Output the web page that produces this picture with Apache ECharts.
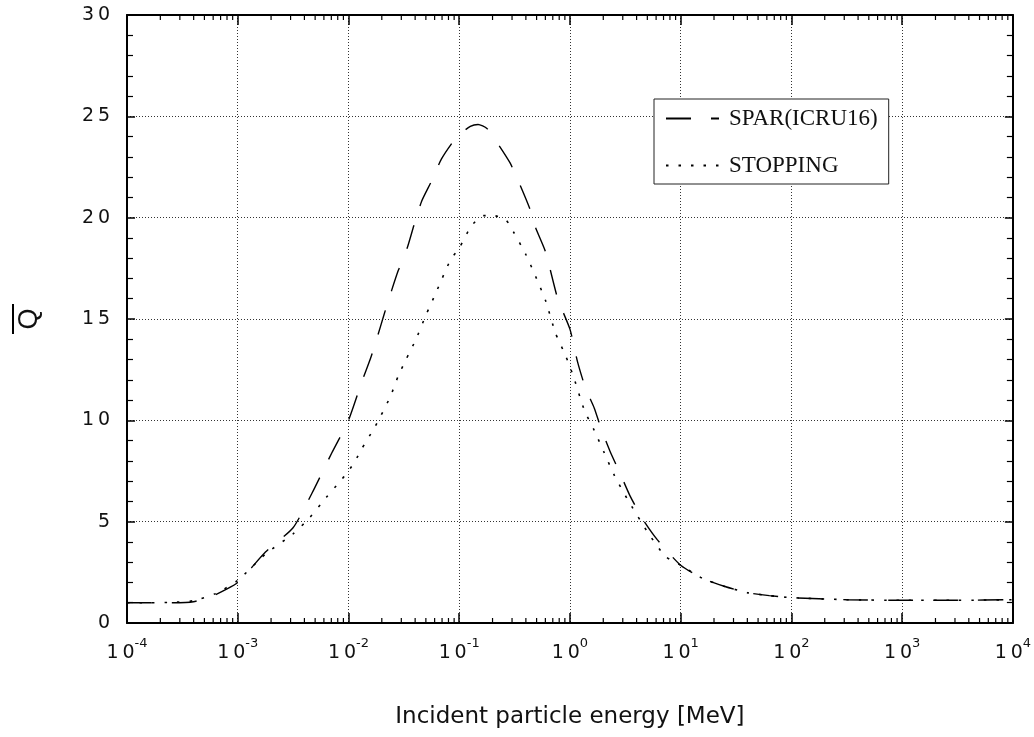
<!DOCTYPE html>
<html><head><meta charset="utf-8">
<script src="https://cdn.jsdelivr.net/npm/echarts@6/dist/echarts.min.js"></script>
<style>html,body{margin:0;padding:0;background:#fff}#c{width:1034px;height:737px}</style>
</head><body><div id="c"></div>
<script>
// ---- data ----
const seriesNames = ['SPAR(ICRU16)', 'STOPPING'];

const sparEnergy = [1e-4, 1.58e-4, 2.51e-4, 3.98e-4, 6.31e-4, 1e-3, 1.78e-3, 3.16e-3, 4.68e-3, 7.08e-3,
  1e-2, 1.32e-2, 1.58e-2, 1.82e-2, 2.09e-2, 2.45e-2, 2.82e-2, 3.39e-2, 3.89e-2, 4.57e-2,
  5.62e-2, 6.92e-2, 9.55e-2, 0.126, 0.148, 0.178, 0.214, 0.288, 0.355, 0.437,
  0.490, 0.603, 0.776, 1.0, 1.17, 1.38, 1.66, 1.91, 2.29, 2.88,
  3.47, 4.57, 6.17, 10, 15.8, 25.1, 39.8, 63.1, 100, 316, 1000, 3160, 10000];
const sparQ = [1.0, 1.0, 1.0, 1.05, 1.4, 2.0, 3.5, 4.7, 6.4, 8.4,
  10.0, 11.9, 13.05, 14.1, 15.2, 16.4, 17.4, 18.5, 19.6, 20.8,
  21.8, 22.9, 24.0, 24.5, 24.6, 24.4, 23.8, 22.7, 21.6, 20.4,
  19.5, 18.3, 16.0, 14.5, 12.9, 11.6, 10.6, 9.6, 8.5, 7.3,
  6.3, 5.1, 4.1, 2.85, 2.2, 1.8, 1.5, 1.35, 1.25, 1.15, 1.12, 1.12, 1.15];

const stopEnergy = [1e-4, 1.58e-4, 2.51e-4, 3.98e-4, 6.31e-4, 1e-3, 1.78e-3, 3.16e-3, 4.47e-3, 6.31e-3,
  8.13e-3, 1e-2, 1.15e-2, 1.32e-2, 1.70e-2, 1.95e-2, 2.40e-2, 2.82e-2, 3.31e-2, 4.07e-2,
  5.01e-2, 6.17e-2, 8.32e-2, 0.1, 0.129, 0.166, 0.204, 0.263, 0.309, 0.398,
  0.490, 0.603, 0.741, 0.912, 1.07, 1.35, 1.66, 2.04, 2.51, 3.31,
  5.01, 7.24, 10, 15.8, 25.1, 39.8, 63.1, 100, 316, 1000, 3160, 10000];
const stopQ = [1.0, 1.0, 1.02, 1.1, 1.45, 2.1, 3.4, 4.4, 5.2, 6.2,
  6.9, 7.5, 8.0, 8.6, 9.6, 10.2, 11.2, 12.2, 13.0, 14.0,
  15.2, 16.3, 17.9, 18.5, 19.6, 20.1, 20.1, 19.9, 19.3, 18.2,
  17.1, 15.9, 14.3, 13.2, 12.2, 10.5, 9.5, 8.4, 7.3, 6.1,
  4.5, 3.3, 2.85, 2.2, 1.8, 1.5, 1.35, 1.25, 1.15, 1.12, 1.12, 1.15];

const xTickExponents = ['-4', '-3', '-2', '-1', '0', '1', '2', '3', '4'];
const xMinorMultipliers = [2, 3, 4, 5, 6, 7, 8, 9];
const yTickLabels = ['0', '5', '10', '15', '20', '25', '30'];
const xTitle = 'Incident particle energy [MeV]';
const yTitle = 'Q';

// ---- chart ----
const spaced = s => s.split('').join('\u2009');
const xMinor = [];
xTickExponents.slice(0, -1).forEach(e => xMinorMultipliers.forEach(m => xMinor.push([m * Math.pow(10, +e), 0])));

const tickFont = 'DejaVu Sans';
const gridLine = { show: true, lineStyle: { color: '#333', width: 1, type: [1, 2] } };
const frameLine = { show: true, onZero: false, lineStyle: { color: '#000', width: 2 } };

const chart = echarts.init(document.getElementById('c'), null, { renderer: 'canvas' });
chart.setOption({
  animation: false,
  backgroundColor: '#fff',
  grid: { left: 127, right: 17, top: 15, bottom: 114 },
  legend: {
    data: seriesNames,
    orient: 'vertical', left: 654, top: 99,
    padding: [8, 11, 7, 11], itemWidth: 53, itemHeight: 23, itemGap: 24,
    backgroundColor: '#fff', borderColor: '#222', borderWidth: 1,
    itemStyle: { opacity: 0 },
    textStyle: { fontFamily: 'Liberation Serif', fontSize: 23, color: '#111', padding: [0, 0, 0, 5] }
  },
  xAxis: [{
    type: 'log', logBase: 10, min: 1e-4, max: 1e4, position: 'bottom',
    axisLine: frameLine,
    axisTick: { show: true, inside: true, length: 10, lineStyle: { color: '#000', width: 1.5 } },
    splitLine: gridLine,
    axisLabel: {
      margin: 14, showMinLabel: true, showMaxLabel: true,
      formatter: v => {
        const e = String(Math.round(Math.log10(v)));
        return '{b|' + spaced('10') + '}{s|' + xTickExponents[xTickExponents.indexOf(e)] + '}';
      },
      rich: {
        b: { fontFamily: tickFont, fontSize: 19, lineHeight: 32, color: '#111' },
        s: { fontFamily: tickFont, fontSize: 13, lineHeight: 32, verticalAlign: 'top', color: '#111' }
      }
    },
    name: xTitle, nameLocation: 'middle', nameGap: 83,
    nameTextStyle: { fontFamily: 'DejaVu Sans', fontSize: 23, color: '#111' }
  }, {
    type: 'log', logBase: 10, min: 1e-4, max: 1e4, position: 'top',
    axisLine: frameLine,
    axisTick: { show: true, inside: true, length: 10, lineStyle: { color: '#000', width: 1.5 } },
    splitLine: { show: false }, axisLabel: { show: false }
  }],
  yAxis: [{
    type: 'value', min: 0, max: 30, interval: 5, position: 'left',
    axisLine: frameLine,
    axisTick: { show: true, inside: true, length: 8, lineStyle: { color: '#000', width: 1.5 } },
    minorTick: { show: true, splitNumber: 5, length: 6, lineStyle: { color: '#000', width: 1.2 } },
    splitLine: gridLine,
    axisLabel: {
      margin: 17, fontFamily: tickFont, fontSize: 19, color: '#111',
      formatter: v => spaced(yTickLabels[Math.round(v / 5)])
    },
    name: '{bar| }\n{q|' + yTitle + '}', nameLocation: 'middle', nameGap: 81, nameRotate: 90,
    nameTextStyle: {
      rich: {
        bar: { width: 30, height: 2, lineHeight: 2, fontSize: 1, backgroundColor: '#000', align: 'center' },
        q: { fontFamily: 'Liberation Sans', fontSize: 27, lineHeight: 32, color: '#111', align: 'center' }
      }
    }
  }, {
    type: 'value', min: 0, max: 30, interval: 5, position: 'right',
    axisLine: frameLine,
    axisTick: { show: true, inside: true, length: 8, lineStyle: { color: '#000', width: 1.5 } },
    minorTick: { show: true, splitNumber: 5, length: 6, lineStyle: { color: '#000', width: 1.2 } },
    splitLine: { show: false }, axisLabel: { show: false }
  }],
  series: [{
    name: seriesNames[0], type: 'line', xAxisIndex: 0, yAxisIndex: 0,
    data: sparEnergy.map((e, i) => [e, sparQ[i]]),
    showSymbol: false, symbol: 'none', smooth: 0.2,
    lineStyle: { color: '#000', width: 1.4, type: [25, 20] }, itemStyle: { color: '#000' }, z: 3
  }, {
    name: seriesNames[1], type: 'line', xAxisIndex: 0, yAxisIndex: 0,
    data: stopEnergy.map((e, i) => [e, stopQ[i]]),
    showSymbol: false, symbol: 'none', smooth: 0.2,
    lineStyle: { color: '#000', width: 1.6, type: [2.5, 10] }, itemStyle: { color: '#000' }, z: 3
  }, {
    type: 'custom', xAxisIndex: 0, yAxisIndex: 0, silent: true, clip: false, z: 4,
    data: xMinor,
    renderItem: (params, api) => {
      const x = api.value(0);
      const b = api.coord([x, 0]);
      const t = api.coord([x, 30]);
      const len = 5;
      return {
        type: 'group', children: [
          { type: 'line', shape: { x1: b[0], y1: b[1], x2: b[0], y2: b[1] - len }, style: { stroke: '#000', lineWidth: 1.2 } },
          { type: 'line', shape: { x1: t[0], y1: t[1], x2: t[0], y2: t[1] + len }, style: { stroke: '#000', lineWidth: 1.2 } }
        ]
      };
    }
  }]
});
</script>
</body></html>
